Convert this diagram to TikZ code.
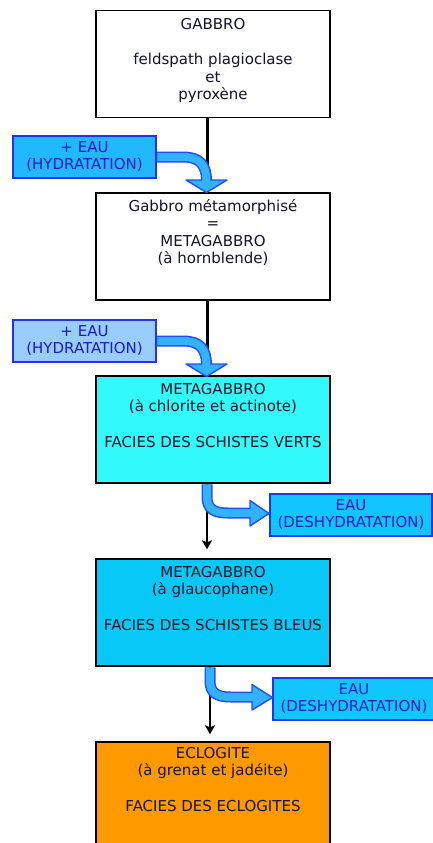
\documentclass[tikz,border=0pt]{standalone}
\usepackage{fontspec}
\setmainfont{DejaVu Sans}
\usetikzlibrary{arrows.meta}
\definecolor{labAfill}{HTML}{22B8FF}
\definecolor{labBfill}{HTML}{99CCFF}
\definecolor{labCfill}{HTML}{11C6FF}
\definecolor{labborder}{HTML}{2233EE}
\definecolor{labtext}{HTML}{1A1ACC}
\definecolor{bandfill}{HTML}{33B3FF}
\definecolor{bandborder}{HTML}{1F4FFF}
\definecolor{boxcyan}{HTML}{33FAFA}
\definecolor{boxblue}{HTML}{08C8F8}
\definecolor{boxorange}{HTML}{FF9900}
\definecolor{boxtextcol}{HTML}{141428}
\begin{document}
\begin{tikzpicture}[x=1pt,y=-1pt,
  box/.style={draw=black, line width=1.4pt, minimum width=234pt, minimum height=107pt, inner sep=0pt},
  boxtext/.style={anchor=north, align=center, inner sep=0pt, text=boxtextcol, font=\fontsize{15}{17.6}\selectfont},
  lab/.style={draw=labborder, line width=1.4pt, minimum height=42pt, inner sep=0pt, align=center, text=labtext, font=\fontsize{15}{17}\selectfont},
  bandout/.style={draw=bandborder, line width=11pt},
  bandin/.style={draw=bandfill, line width=8pt},
  bandhead/.style={fill=bandfill, draw=bandborder, line width=1.4pt, line join=round},
  thickline/.style={draw=black, line width=3pt},
  blackarrow/.style={draw=black, line width=2pt, -{Stealth[length=9pt,width=10pt,inset=2pt]}}
]
\useasboundingbox (0,0) rectangle (433,843);
\clip (0,0) rectangle (433,843);

% boxes
\node[box, fill=white] (b1) at (213,64) {};
\node[box, fill=white] (b2) at (213,246.5) {};
\node[box, fill=boxcyan] (b3) at (213,429.5) {};
\node[box, fill=boxblue] (b4) at (213,612.5) {};
\node[box, fill=boxorange, minimum height=120pt] (b5) at (213,802) {};

% box texts
\node[boxtext] (t1) at (213,18) {\rule{0pt}{11pt}GABBRO\\ ~ \\feldspath plagioclase\\et\\pyroxène};
\node[boxtext] (t2) at (213,199) {\rule{0pt}{11pt}Gabbro métamorphisé\\=\\METAGABBRO\\(à hornblende)};
\node[boxtext] (t3) at (213,383) {\rule{0pt}{11pt}METAGABBRO\\(à chlorite et actinote)\\ ~ \\FACIES DES SCHISTES VERTS};
\node[boxtext] (t4) at (213,566) {\rule{0pt}{11pt}METAGABBRO\\(à glaucophane)\\ ~ \\FACIES DES SCHISTES BLEUS};
\node[boxtext] (t5) at (213,747) {\rule{0pt}{11pt}ECLOGITE\\(à grenat et jadéite)\\ ~ \\FACIES DES ECLOGITES};

% labels
\node[lab, fill=labAfill, minimum width=143pt] (l1) at (84.5,157) {+ EAU\\(HYDRATATION)};
\node[lab, fill=labBfill, minimum width=143pt] (l2) at (84.5,341) {+ EAU\\(HYDRATATION)};
\node[lab, fill=labCfill, minimum width=162pt] (l3) at (351,515) {EAU\\(DESHYDRATATION)};
\node[lab, fill=labCfill, minimum width=162pt] (l4) at (354,699) {EAU\\(DESHYDRATATION)};

% black connectors
\coordinate (c1) at (207,168);
\coordinate (c2) at (207,352);
\draw[thickline] ([xshift=-6pt]b1.south) -- (c1);
\draw[thickline] ([xshift=-6pt]b2.south) -- (c2);
\draw[blackarrow] ([xshift=-6pt]b3.south) -- ([xshift=-6pt,yshift=9pt]b4.north);
\draw[blackarrow] ([xshift=-3pt]b4.south) -- ([xshift=-3pt,yshift=7pt]b5.north);

% hydration arrow 1
\draw[bandout] (l1.east) -- (183,157) .. controls (200,157) and (206.5,165) .. (206.5,181);
\draw[bandhead] (186,180) -- (227,180) -- (206.5,192.5) -- cycle;
\draw[bandin] ([xshift=0.7pt]l1.east) -- (183,157) .. controls (200,157) and (206.5,165) .. (206.5,182);

% hydration arrow 2
\draw[bandout] (l2.east) -- (183,341) .. controls (200,341) and (206.5,349) .. (206.5,365);
\draw[bandhead] (186,364) -- (227,364) -- (206.5,376.5) -- cycle;
\draw[bandin] ([xshift=0.7pt]l2.east) -- (183,341) .. controls (200,341) and (206.5,349) .. (206.5,366);

% dehydration arrow 1
\draw[bandout] ([xshift=-6pt,yshift=-0.7pt]b3.south) -- (207,497) .. controls (207,509) and (214,513) .. (228,513) -- (251,513);
\draw[bandhead] (250,500.5) -- (250,526) -- (269,513.5) -- cycle;
\draw[bandin] ([xshift=-6pt,yshift=-0.7pt]b3.south) -- (207,497) .. controls (207,509) and (214,513) .. (228,513) -- (252,513);

% dehydration arrow 2
\draw[bandout] ([xshift=-3pt,yshift=-0.7pt]b4.south) -- (210,681) .. controls (210,693) and (217,697) .. (231,697) -- (253,697);
\draw[bandhead] (252,684.5) -- (252,710) -- (272.5,697.5) -- cycle;
\draw[bandin] ([xshift=-3pt,yshift=-0.7pt]b4.south) -- (210,681) .. controls (210,693) and (217,697) .. (231,697) -- (254,697);
\end{tikzpicture}
\end{document}
